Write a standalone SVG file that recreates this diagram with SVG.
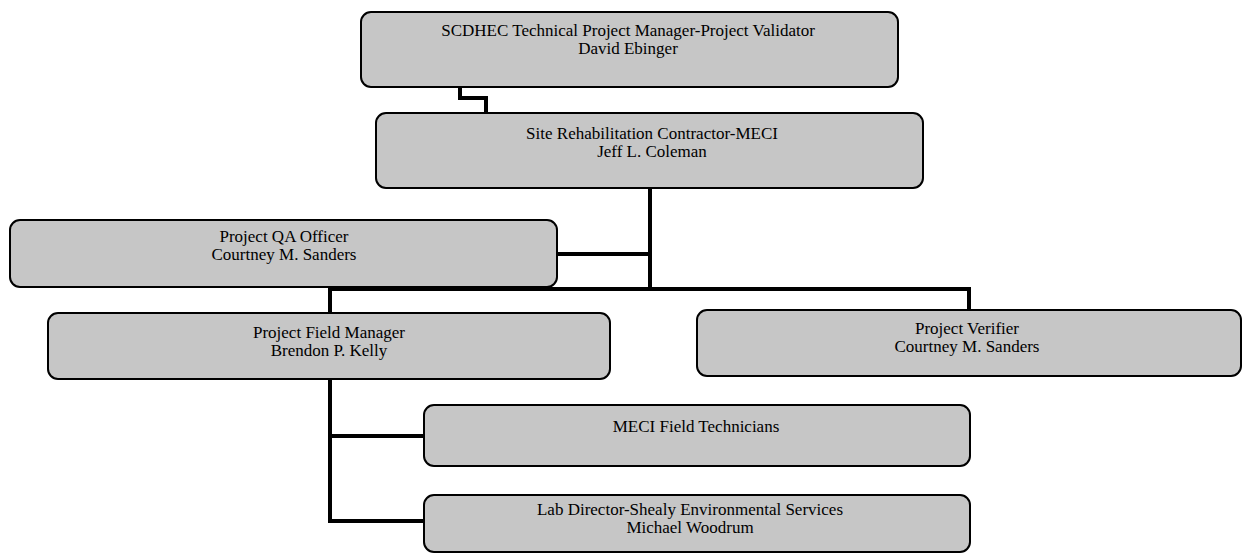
<svg xmlns="http://www.w3.org/2000/svg" width="1246" height="554" viewBox="0 0 1246 554">
<style>
.box{fill:#c6c6c6;stroke:#000;stroke-width:2}
.t{font-family:"Liberation Serif","Times New Roman",serif;font-size:17px;fill:#000;text-anchor:middle}
.c{fill:none;stroke:#000;stroke-width:4;stroke-linejoin:miter;stroke-linecap:square}
</style>
<rect width="1246" height="554" fill="#fff"/>
<g id="connectors">
<path class="c" d="M460,88 V98 H486 V113"/>
<path class="c" d="M650,189 V289"/>
<path class="c" d="M558,254 H650"/>
<path class="c" d="M330,289 H969"/>
<path class="c" d="M330,289 V313"/>
<path class="c" d="M969,289 V310"/>
<path class="c" d="M330,379 V521 H424"/>
<path class="c" d="M330,436 H424"/>
</g>
<g id="n1">
<rect class="box" x="361" y="12" width="537" height="75" rx="10"/>
<text class="t" x="628" y="36">SCDHEC Technical Project Manager-Project Validator</text>
<text class="t" x="628" y="54">David Ebinger</text>
</g>
<g id="n2">
<rect class="box" x="376" y="113" width="547" height="75" rx="10"/>
<text class="t" x="652" y="139">Site Rehabilitation Contractor-MECI</text>
<text class="t" x="652" y="157">Jeff L. Coleman</text>
</g>
<g id="n3">
<rect class="box" x="10" y="220" width="547" height="67" rx="10"/>
<text class="t" x="284" y="242">Project QA Officer</text>
<text class="t" x="284" y="260">Courtney M. Sanders</text>
</g>
<g id="n4">
<rect class="box" x="48" y="313" width="562" height="66" rx="10"/>
<text class="t" x="329" y="338">Project Field Manager</text>
<text class="t" x="329" y="356">Brendon P. Kelly</text>
</g>
<g id="n5">
<rect class="box" x="697" y="310" width="544" height="66" rx="10"/>
<text class="t" x="967" y="334">Project Verifier</text>
<text class="t" x="967" y="352">Courtney M. Sanders</text>
</g>
<g id="n6">
<rect class="box" x="424" y="405" width="546" height="61" rx="10"/>
<text class="t" x="696" y="432">MECI Field Technicians</text>
</g>
<g id="n7">
<rect class="box" x="424" y="495" width="546" height="57" rx="10"/>
<text class="t" x="690" y="515">Lab Director-Shealy Environmental Services</text>
<text class="t" x="690" y="533">Michael Woodrum</text>
</g>
</svg>
